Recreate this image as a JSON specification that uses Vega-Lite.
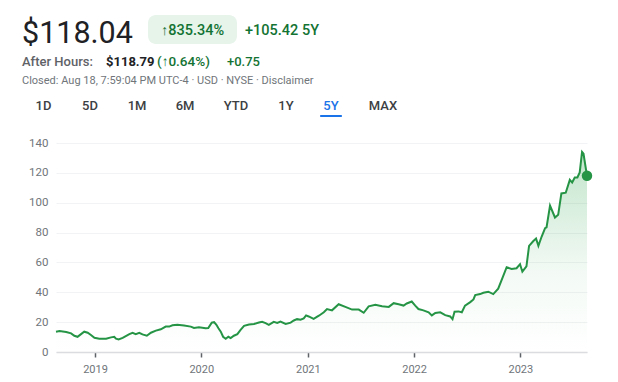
{
  "$schema": "https://vega.github.io/schema/vega-lite/v6.json",
  "width": 531,
  "height": 209,
  "autosize": {"type": "none"},
  "padding": {"left": 56, "top": 143, "right": 31, "bottom": 30},
  "background": "white",
  "config": {"view": {"stroke": null}, "font": "Roboto", "text": {"font": "Roboto"}},
  "layer": [
    {
      "data": {"values": [
        {"date": "2018-08-20", "close": 13.6}, {"date": "2018-09-01", "close": 14.1}, {"date": "2018-09-24", "close": 13.4},
        {"date": "2018-10-11", "close": 12.5}, {"date": "2018-10-22", "close": 10.9}, {"date": "2018-11-02", "close": 10.2},
        {"date": "2018-11-14", "close": 12.0}, {"date": "2018-11-25", "close": 13.6}, {"date": "2018-12-07", "close": 12.9},
        {"date": "2018-12-18", "close": 11.4}, {"date": "2018-12-30", "close": 9.5}, {"date": "2019-01-16", "close": 8.9},
        {"date": "2019-02-08", "close": 8.9}, {"date": "2019-02-25", "close": 9.8}, {"date": "2019-03-08", "close": 10.2},
        {"date": "2019-03-14", "close": 8.9}, {"date": "2019-03-23", "close": 8.4}, {"date": "2019-04-06", "close": 9.5},
        {"date": "2019-04-29", "close": 12.0}, {"date": "2019-05-10", "close": 12.9}, {"date": "2019-05-21", "close": 12.0},
        {"date": "2019-06-02", "close": 12.9}, {"date": "2019-06-13", "close": 11.8}, {"date": "2019-06-28", "close": 10.9},
        {"date": "2019-07-12", "close": 12.9}, {"date": "2019-07-29", "close": 14.3}, {"date": "2019-08-15", "close": 15.2},
        {"date": "2019-09-01", "close": 17.0}, {"date": "2019-09-13", "close": 17.0}, {"date": "2019-09-24", "close": 17.9},
        {"date": "2019-10-11", "close": 18.2}, {"date": "2019-11-03", "close": 17.7}, {"date": "2019-11-26", "close": 17.0},
        {"date": "2019-12-07", "close": 16.1}, {"date": "2019-12-24", "close": 16.6}, {"date": "2020-01-16", "close": 15.9},
        {"date": "2020-01-25", "close": 16.1}, {"date": "2020-02-06", "close": 19.7}, {"date": "2020-02-14", "close": 20.0},
        {"date": "2020-02-22", "close": 18.2}, {"date": "2020-02-29", "close": 15.9}, {"date": "2020-03-08", "close": 13.6},
        {"date": "2020-03-16", "close": 10.2}, {"date": "2020-03-25", "close": 8.9}, {"date": "2020-04-03", "close": 10.2},
        {"date": "2020-04-11", "close": 9.3}, {"date": "2020-04-22", "close": 10.9}, {"date": "2020-05-04", "close": 12.0},
        {"date": "2020-05-15", "close": 14.8}, {"date": "2020-05-27", "close": 17.5}, {"date": "2020-06-13", "close": 18.4},
        {"date": "2020-06-30", "close": 18.8}, {"date": "2020-07-17", "close": 19.7}, {"date": "2020-07-28", "close": 20.2},
        {"date": "2020-08-09", "close": 19.3}, {"date": "2020-08-20", "close": 18.2}, {"date": "2020-09-06", "close": 20.2},
        {"date": "2020-09-18", "close": 19.5}, {"date": "2020-09-29", "close": 20.4}, {"date": "2020-10-17", "close": 18.8},
        {"date": "2020-11-03", "close": 19.7}, {"date": "2020-11-14", "close": 21.1}, {"date": "2020-11-25", "close": 22.0},
        {"date": "2020-12-07", "close": 21.6}, {"date": "2020-12-18", "close": 22.5}, {"date": "2020-12-26", "close": 24.5},
        {"date": "2021-01-04", "close": 23.8}, {"date": "2021-01-21", "close": 22.2}, {"date": "2021-02-08", "close": 24.3},
        {"date": "2021-02-25", "close": 26.6}, {"date": "2021-03-08", "close": 28.8}, {"date": "2021-03-25", "close": 27.9},
        {"date": "2021-04-17", "close": 32.0}, {"date": "2021-05-10", "close": 30.2}, {"date": "2021-06-02", "close": 28.4},
        {"date": "2021-06-25", "close": 28.4}, {"date": "2021-07-12", "close": 26.3}, {"date": "2021-07-29", "close": 30.6},
        {"date": "2021-08-21", "close": 31.6}, {"date": "2021-09-13", "close": 30.6}, {"date": "2021-10-06", "close": 30.2},
        {"date": "2021-10-23", "close": 32.7}, {"date": "2021-11-09", "close": 32.0}, {"date": "2021-11-26", "close": 31.1},
        {"date": "2021-12-07", "close": 32.5}, {"date": "2021-12-24", "close": 33.8}, {"date": "2022-01-05", "close": 31.1},
        {"date": "2022-01-16", "close": 28.8}, {"date": "2022-02-02", "close": 27.9}, {"date": "2022-02-20", "close": 26.6},
        {"date": "2022-03-03", "close": 24.5}, {"date": "2022-03-15", "close": 26.1}, {"date": "2022-04-01", "close": 26.6},
        {"date": "2022-04-18", "close": 24.7}, {"date": "2022-05-05", "close": 23.8}, {"date": "2022-05-13", "close": 22.0},
        {"date": "2022-05-20", "close": 27.0}, {"date": "2022-06-02", "close": 27.2}, {"date": "2022-06-14", "close": 26.6},
        {"date": "2022-06-25", "close": 31.1}, {"date": "2022-07-13", "close": 33.4}, {"date": "2022-07-24", "close": 35.2},
        {"date": "2022-07-30", "close": 38.1}, {"date": "2022-08-16", "close": 38.8}, {"date": "2022-08-27", "close": 39.7},
        {"date": "2022-09-13", "close": 40.4}, {"date": "2022-09-30", "close": 38.8}, {"date": "2022-10-17", "close": 42.4},
        {"date": "2022-10-31", "close": 49.3}, {"date": "2022-11-15", "close": 56.8}, {"date": "2022-12-02", "close": 55.6},
        {"date": "2022-12-19", "close": 56.1}, {"date": "2022-12-31", "close": 58.8}, {"date": "2023-01-08", "close": 53.8},
        {"date": "2023-01-22", "close": 57.4}, {"date": "2023-01-31", "close": 71.1}, {"date": "2023-02-14", "close": 74.2},
        {"date": "2023-02-24", "close": 76.0}, {"date": "2023-03-04", "close": 71.1}, {"date": "2023-03-15", "close": 77.2},
        {"date": "2023-03-27", "close": 82.9}, {"date": "2023-04-01", "close": 83.5}, {"date": "2023-04-13", "close": 98.1},
        {"date": "2023-04-30", "close": 90.1}, {"date": "2023-05-11", "close": 91.9}, {"date": "2023-05-22", "close": 106.2},
        {"date": "2023-06-06", "close": 106.7}, {"date": "2023-06-20", "close": 115.3}, {"date": "2023-06-28", "close": 113.5},
        {"date": "2023-07-07", "close": 116.9}, {"date": "2023-07-16", "close": 116.9}, {"date": "2023-07-24", "close": 120.3},
        {"date": "2023-08-01", "close": 134.0}, {"date": "2023-08-06", "close": 132.8}, {"date": "2023-08-18", "close": 118.04}
      ]},
      "encoding": {
        "x": {
          "field": "date", "type": "temporal",
          "scale": {"type": "utc", "nice": false},
          "axis": {
            "title": null, "format": "%Y", "tickCount": {"interval": "year", "step": 1},
            "grid": false, "domainColor": "#dadce0", "domainWidth": 1.5,
            "tickColor": "#5f6368", "tickSize": 5, "tickWidth": 1.5,
            "labelColor": "#70757a", "labelFontSize": 11, "labelPadding": 6, "labelFont": "Roboto"
          }
        },
        "y": {
          "field": "close", "type": "quantitative",
          "scale": {"domain": [0, 140], "nice": false, "zero": true},
          "axis": {
            "title": null, "values": [0, 20, 40, 60, 80, 100, 120, 140],
            "domain": false, "ticks": false, "gridColor": "#f1f3f4", "gridWidth": 1,
            "labelColor": "#70757a", "labelFontSize": 11.5, "labelPadding": 8, "labelFont": "Roboto"
          }
        }
      },
      "layer": [
        {
          "mark": {
            "type": "area",
            "fill": {
              "gradient": "linear", "x1": 0, "y1": 0, "x2": 0, "y2": 1,
              "stops": [
                {"offset": 0, "color": "rgba(52,168,83,0.30)"},
                {"offset": 0.6, "color": "rgba(52,168,83,0.06)"},
                {"offset": 1, "color": "rgba(52,168,83,0)"}
              ]
            }
          }
        },
        {"mark": {"type": "line", "color": "#259445", "strokeWidth": 2}},
        {
          "transform": [{"filter": "datum.close === 118.04"}],
          "mark": {"type": "point", "filled": true, "color": "#259445", "size": 110, "opacity": 1}
        }
      ]
    },
    {"data": {"values": [{}]}, "mark": {"type": "text", "x": -34, "y": -100, "text": "$118.04", "fontSize": 30.5, "color": "#202124", "align": "left", "baseline": "alphabetic"}, "encoding": {}},
    {"data": {"values": [{}]}, "mark": {"type": "rect", "x": 92, "x2": 181, "y": -128, "y2": -99, "cornerRadius": 8, "color": "#e6f4ea"}, "encoding": {}},
    {"data": {"values": [{}]}, "mark": {"type": "text", "x": 136.5, "y": -108, "text": "↑835.34%", "fontSize": 14.5, "fontWeight": 500, "color": "#137333", "align": "center", "baseline": "alphabetic"}, "encoding": {}},
    {"data": {"values": [{}]}, "mark": {"type": "text", "x": 189, "y": -108, "text": "+105.42 5Y", "fontSize": 14.5, "fontWeight": 500, "color": "#137333", "align": "left", "baseline": "alphabetic"}, "encoding": {}},
    {"data": {"values": [{}]}, "mark": {"type": "text", "x": -34, "y": -77.5, "text": "After Hours:", "fontSize": 13, "fontWeight": 500, "color": "#5f6368", "align": "left", "baseline": "alphabetic"}, "encoding": {}},
    {"data": {"values": [{}]}, "mark": {"type": "text", "x": 50, "y": -77.5, "text": "$118.79", "fontSize": 13, "fontWeight": "bold", "color": "#202124", "align": "left", "baseline": "alphabetic"}, "encoding": {}},
    {"data": {"values": [{}]}, "mark": {"type": "text", "x": 101, "y": -77.5, "text": "(↑0.64%)", "fontSize": 13.5, "fontWeight": 500, "color": "#137333", "align": "left", "baseline": "alphabetic"}, "encoding": {}},
    {"data": {"values": [{}]}, "mark": {"type": "text", "x": 171, "y": -77.5, "text": "+0.75", "fontSize": 13, "fontWeight": 500, "color": "#137333", "align": "left", "baseline": "alphabetic"}, "encoding": {}},
    {"data": {"values": [{}]}, "mark": {"type": "text", "x": -34, "y": -59, "text": "Closed: Aug 18, 7:59:04 PM UTC-4 · USD · NYSE · Disclaimer", "fontSize": 11, "color": "#70757a", "align": "left", "baseline": "alphabetic"}, "encoding": {}},
    {"data": {"values": [{}]}, "mark": {"type": "text", "x": -12.5, "y": -33, "text": "1D", "fontSize": 13, "fontWeight": 500, "color": "#3c4043", "align": "center", "baseline": "alphabetic"}, "encoding": {}},
    {"data": {"values": [{}]}, "mark": {"type": "text", "x": 34, "y": -33, "text": "5D", "fontSize": 13, "fontWeight": 500, "color": "#3c4043", "align": "center", "baseline": "alphabetic"}, "encoding": {}},
    {"data": {"values": [{}]}, "mark": {"type": "text", "x": 81, "y": -33, "text": "1M", "fontSize": 13, "fontWeight": 500, "color": "#3c4043", "align": "center", "baseline": "alphabetic"}, "encoding": {}},
    {"data": {"values": [{}]}, "mark": {"type": "text", "x": 129, "y": -33, "text": "6M", "fontSize": 13, "fontWeight": 500, "color": "#3c4043", "align": "center", "baseline": "alphabetic"}, "encoding": {}},
    {"data": {"values": [{}]}, "mark": {"type": "text", "x": 180, "y": -33, "text": "YTD", "fontSize": 13, "fontWeight": 500, "color": "#3c4043", "align": "center", "baseline": "alphabetic"}, "encoding": {}},
    {"data": {"values": [{}]}, "mark": {"type": "text", "x": 230, "y": -33, "text": "1Y", "fontSize": 13, "fontWeight": 500, "color": "#3c4043", "align": "center", "baseline": "alphabetic"}, "encoding": {}},
    {"data": {"values": [{}]}, "mark": {"type": "text", "x": 275, "y": -33, "text": "5Y", "fontSize": 13, "fontWeight": 500, "color": "#1a73e8", "align": "center", "baseline": "alphabetic"}, "encoding": {}},
    {"data": {"values": [{}]}, "mark": {"type": "text", "x": 327, "y": -33, "text": "MAX", "fontSize": 13, "fontWeight": 500, "color": "#3c4043", "align": "center", "baseline": "alphabetic"}, "encoding": {}},
    {"data": {"values": [{}]}, "mark": {"type": "rect", "x": 264, "x2": 286, "y": -28, "y2": -26, "cornerRadius": 1, "color": "#1a73e8"}, "encoding": {}}
  ]
}
